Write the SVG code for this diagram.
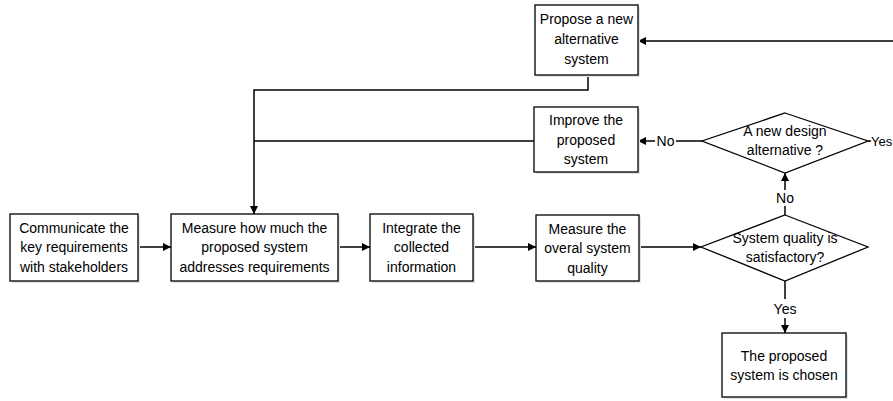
<svg xmlns="http://www.w3.org/2000/svg" width="893" height="401" viewBox="0 0 893 401">
<style>
.box{fill:#fff;stroke:#000;stroke-width:1.3}
.sh{fill:#dfe3ea;stroke:none}
.t{font-family:"Liberation Sans",Arial,sans-serif;font-size:14px;fill:#000;text-anchor:middle}
.c{fill:none;stroke:#000;stroke-width:1.5}
</style>
<defs>
<marker id="ah" viewBox="0 0 10 10" refX="10" refY="5" markerWidth="8" markerHeight="8" markerUnits="userSpaceOnUse" orient="auto">
<path d="M0,0 L10,5 L0,10 z" fill="#000"/>
</marker>
</defs>
<g id="connectors">
<path class="c" d="M893,41 L638,41" marker-end="url(#ah)"/>
<path class="c" d="M588,75 L588,90 L254,90 L254,214" marker-end="url(#ah)"/>
<path class="c" d="M534,141 L254,141"/>
<path class="c" d="M702,141 L676,141"/>
<path class="c" d="M655,141 L638,141" marker-end="url(#ah)"/>
<path class="c" d="M868,141 L871,141"/>
<path class="c" d="M785,215 L785,206"/>
<path class="c" d="M785,190 L785,173" marker-end="url(#ah)"/>
<path class="c" d="M138,247 L171,247" marker-end="url(#ah)"/>
<path class="c" d="M338,247 L370,247" marker-end="url(#ah)"/>
<path class="c" d="M473,247 L536,247" marker-end="url(#ah)"/>
<path class="c" d="M639,247 L701,247" marker-end="url(#ah)"/>
<path class="c" d="M785,281 L785,299"/>
<path class="c" d="M785,318 L785,333" marker-end="url(#ah)"/>
<text class="t" x="665.5" y="146">No</text>
<text class="t" x="785" y="203">No</text>
<text class="t" x="785" y="314">Yes</text>
<text class="t" x="871" y="146" style="text-anchor:start;font-size:13px">Yes</text>
</g>
<g id="propose">
<rect class="sh" x="537" y="7" width="103" height="70"/>
<rect class="box" x="535" y="5" width="103" height="70"/>
<text class="t" x="586.5" y="24">Propose a new</text>
<text class="t" x="586.5" y="44">alternative</text>
<text class="t" x="586.5" y="64">system</text>
</g>
<g id="improve">
<rect class="sh" x="536" y="109" width="104" height="65"/>
<rect class="box" x="534" y="107" width="104" height="65"/>
<text class="t" x="586" y="125">Improve the</text>
<text class="t" x="586" y="145">proposed</text>
<text class="t" x="586" y="164">system</text>
</g>
<g id="newdesign">
<polygon class="box" points="785,113 868,141 785,173 702,141"/>
<text class="t" x="785" y="136">A new design</text>
<text class="t" x="785" y="155">alternative ?</text>
</g>
<g id="communicate">
<rect class="sh" x="12" y="216" width="128" height="67"/>
<rect class="box" x="10" y="214" width="128" height="67"/>
<text class="t" x="74" y="233">Communicate the</text>
<text class="t" x="74" y="252">key requirements</text>
<text class="t" x="74" y="272">with stakeholders</text>
</g>
<g id="measurehow">
<rect class="sh" x="173" y="216" width="167" height="67"/>
<rect class="box" x="171" y="214" width="167" height="67"/>
<text class="t" x="254.5" y="233">Measure how much the</text>
<text class="t" x="254.5" y="252">proposed system</text>
<text class="t" x="254.5" y="272">addresses requirements</text>
</g>
<g id="integrate">
<rect class="sh" x="372" y="216" width="103" height="67"/>
<rect class="box" x="370" y="214" width="103" height="67"/>
<text class="t" x="421.5" y="233">Integrate the</text>
<text class="t" x="421.5" y="252">collected</text>
<text class="t" x="421.5" y="272">information</text>
</g>
<g id="measurequality">
<rect class="sh" x="538" y="217" width="103" height="66"/>
<rect class="box" x="536" y="215" width="103" height="66"/>
<text class="t" x="587.5" y="234">Measure the</text>
<text class="t" x="587.5" y="253">overal system</text>
<text class="t" x="587.5" y="273">quality</text>
</g>
<g id="quality">
<polygon class="box" points="785,215 868,247 785,281 701,247"/>
<text class="t" x="785" y="243">System quality is</text>
<text class="t" x="785" y="262">satisfactory?</text>
</g>
<g id="chosen">
<rect class="sh" x="724" y="335" width="124" height="64"/>
<rect class="box" x="722" y="333" width="124" height="64"/>
<text class="t" x="784" y="361">The proposed</text>
<text class="t" x="784" y="380">system is chosen</text>
</g>
</svg>
